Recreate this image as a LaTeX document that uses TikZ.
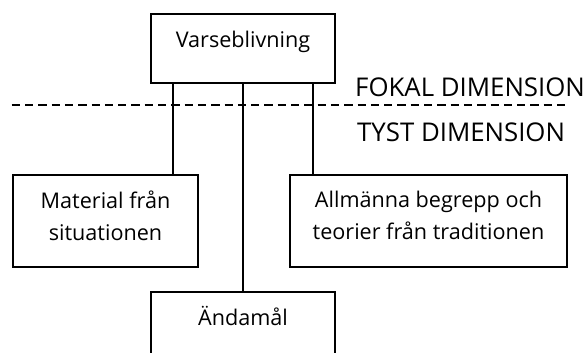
\documentclass[tikz,border=0pt]{standalone}
\usepackage{fontspec}
\setmainfont{Open Sans}
% invisible strut that deepens the last line of a two-line box
\newcommand{\lastdepth}{\rule[-10.5pt]{0pt}{0pt}}
\begin{document}
\begin{tikzpicture}[x=1pt,y=-1pt,
  box/.style={draw, line width=1.8pt, inner sep=0pt, align=center,
    font=\fontsize{21.6}{32}\selectfont},
  dimlabel/.style={anchor=base west, inner sep=0pt,
    font=\fontsize{25.8}{30}\selectfont},
  link/.style={line width=1.8pt},
  divider/.style={line width=2.4pt, dash pattern=on 8.3pt off 5pt}]
  \useasboundingbox[fill=white] (0,0) rectangle (587,353);

  % boxes
  \node[box, minimum width=184pt, text height=34pt, text depth=35pt,
        anchor=north] (perc) at (243,13) {Varseblivning};
  \node[box, minimum width=185pt, minimum height=92pt] (mat) at (105.5,221)
        {Material från\\situationen\lastdepth};
  \node[box, minimum width=277pt, minimum height=92pt] (gen) at (428.5,221)
        {Allmänna begrepp och\\teorier från traditionen\lastdepth};
  \node[box, minimum width=184pt, text height=34pt, text depth=80pt,
        anchor=north] (goal) at (243,291) {Ändamål};

  % focal / tacit boundary
  \coordinate (dashL) at (11.7,105);
  \coordinate (dashR) at (570,105);
  \draw[divider] (dashL) -- (dashR);
  \node[dimlabel] (focal) at (355,96) {FOKAL DIMENSION};
  \node[dimlabel] (tacit) at (357,142) {TYST DIMENSION};

  % connectors
  \draw[link] ([xshift=23pt]perc.south west) coordinate (pl) -- (pl |- mat.north);
  \draw[link] ([xshift=-23pt]perc.south east) coordinate (pr) -- (pr |- gen.north);
  \draw[link] (perc.south) -- (goal.north);
\end{tikzpicture}
\end{document}
